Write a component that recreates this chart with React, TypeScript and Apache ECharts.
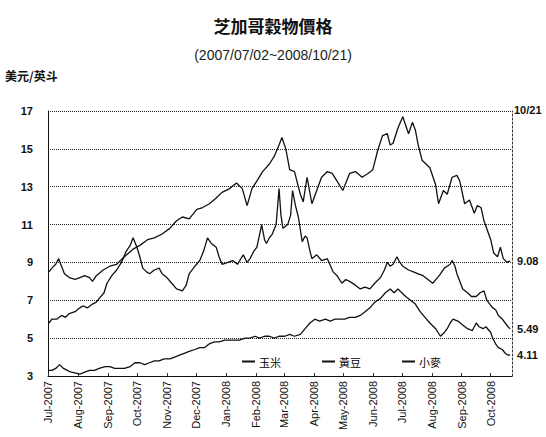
import React, { useEffect, useRef } from 'react';
import * as echarts from 'echarts';

const seriesNames = ['玉米', '黃豆', '小麥'];
const endLabels = ['4.11', '9.08', '5.49'];
const monthNames = ['Jan', 'Feb', 'Mar', 'Apr', 'May', 'Jun', 'Jul', 'Aug', 'Sep', 'Oct', 'Nov', 'Dec'];
const firstDay = '2007-07-01';
const lastDay = '2008-10-23';
const yMin = 3;
const yMax = 17;
const yStep = 2;

const corn: [string, number][] = [
  ['2007-07-02', 3.3], ['2007-07-05', 3.3], ['2007-07-09', 3.4], ['2007-07-13', 3.6], ['2007-07-17', 3.4],
  ['2007-07-21', 3.3], ['2007-07-25', 3.2], ['2007-07-30', 3.15], ['2007-08-03', 3.1], ['2007-08-08', 3.2],
  ['2007-08-13', 3.3], ['2007-08-18', 3.3], ['2007-08-23', 3.4], ['2007-08-29', 3.5], ['2007-09-03', 3.5],
  ['2007-09-08', 3.4], ['2007-09-13', 3.4], ['2007-09-18', 3.4], ['2007-09-24', 3.5], ['2007-09-29', 3.7],
  ['2007-10-04', 3.7], ['2007-10-09', 3.6], ['2007-10-14', 3.7], ['2007-10-19', 3.8], ['2007-10-24', 3.8],
  ['2007-10-29', 3.9], ['2007-11-04', 3.9], ['2007-11-09', 4.0], ['2007-11-14', 4.1], ['2007-11-19', 4.2],
  ['2007-11-24', 4.3], ['2007-11-30', 4.4], ['2007-12-05', 4.5], ['2007-12-10', 4.5], ['2007-12-15', 4.7],
  ['2007-12-20', 4.8], ['2007-12-25', 4.8], ['2007-12-31', 4.9], ['2008-01-05', 4.9], ['2008-01-10', 4.9],
  ['2008-01-15', 4.9], ['2008-01-21', 5.0], ['2008-01-26', 5.0], ['2008-01-31', 5.1], ['2008-02-05', 5.0],
  ['2008-02-10', 5.1], ['2008-02-15', 5.1], ['2008-02-20', 5.0], ['2008-02-25', 5.1], ['2008-03-02', 5.1],
  ['2008-03-07', 5.2], ['2008-03-12', 5.1], ['2008-03-18', 5.2], ['2008-03-23', 5.5], ['2008-03-28', 5.8],
  ['2008-04-02', 6.0], ['2008-04-07', 5.9], ['2008-04-13', 6.0], ['2008-04-18', 5.9], ['2008-04-23', 6.0],
  ['2008-04-28', 6.0], ['2008-05-03', 6.0], ['2008-05-08', 6.1], ['2008-05-14', 6.1], ['2008-05-19', 6.2],
  ['2008-05-24', 6.4], ['2008-05-29', 6.6], ['2008-06-03', 6.9], ['2008-06-09', 7.1], ['2008-06-14', 7.4],
  ['2008-06-19', 7.6], ['2008-06-23', 7.4], ['2008-06-27', 7.6], ['2008-07-01', 7.4], ['2008-07-05', 7.2],
  ['2008-07-10', 7.0], ['2008-07-15', 6.8], ['2008-07-20', 6.4], ['2008-07-25', 6.1], ['2008-07-30', 5.8],
  ['2008-08-05', 5.5], ['2008-08-10', 5.1], ['2008-08-14', 5.3], ['2008-08-17', 5.5], ['2008-08-20', 5.8],
  ['2008-08-23', 6.0], ['2008-08-28', 5.9], ['2008-09-02', 5.7], ['2008-09-07', 5.5], ['2008-09-12', 5.4],
  ['2008-09-16', 5.8], ['2008-09-19', 5.6], ['2008-09-23', 5.5], ['2008-09-26', 5.6], ['2008-10-01', 5.3],
  ['2008-10-03', 5.0], ['2008-10-06', 4.7], ['2008-10-09', 4.5], ['2008-10-13', 4.4], ['2008-10-16', 4.2],
  ['2008-10-19', 4.1], ['2008-10-21', 4.11],
];

const soybean: [string, number][] = [
  ['2007-07-02', 8.5], ['2007-07-05', 8.7], ['2007-07-09', 8.9], ['2007-07-12', 9.2], ['2007-07-15', 8.8],
  ['2007-07-18', 8.4], ['2007-07-23', 8.2], ['2007-07-29', 8.1], ['2007-08-03', 8.2], ['2007-08-08', 8.3],
  ['2007-08-13', 8.2], ['2007-08-16', 8.0], ['2007-08-20', 8.3], ['2007-08-27', 8.6], ['2007-09-03', 8.8],
  ['2007-09-10', 8.9], ['2007-09-18', 9.3], ['2007-09-27', 9.7], ['2007-10-04', 9.9], ['2007-10-12', 10.2],
  ['2007-10-19', 10.3], ['2007-10-27', 10.5], ['2007-11-04', 10.8], ['2007-11-11', 11.2], ['2007-11-17', 11.4],
  ['2007-11-24', 11.3], ['2007-12-02', 11.8], ['2007-12-08', 11.9], ['2007-12-15', 12.1], ['2007-12-22', 12.4],
  ['2007-12-28', 12.7], ['2008-01-05', 12.9], ['2008-01-12', 13.2], ['2008-01-18', 12.9], ['2008-01-23', 12.0],
  ['2008-01-28', 12.9], ['2008-02-02', 13.3], ['2008-02-08', 13.8], ['2008-02-15', 14.2], ['2008-02-20', 14.6],
  ['2008-02-25', 15.2], ['2008-02-28', 15.6], ['2008-03-03', 15.0], ['2008-03-07', 13.9], ['2008-03-12', 13.8],
  ['2008-03-18', 12.6], ['2008-03-21', 12.2], ['2008-03-25', 13.5], ['2008-03-30', 12.1], ['2008-04-04', 12.8],
  ['2008-04-09', 13.5], ['2008-04-15', 13.8], ['2008-04-20', 13.7], ['2008-04-25', 13.3], ['2008-05-01', 12.8],
  ['2008-05-08', 13.7], ['2008-05-14', 13.8], ['2008-05-21', 13.5], ['2008-05-27', 13.7], ['2008-06-01', 13.9],
  ['2008-06-06', 14.9], ['2008-06-11', 15.7], ['2008-06-16', 15.8], ['2008-06-19', 15.2], ['2008-06-22', 15.3],
  ['2008-06-27', 16.1], ['2008-07-02', 16.7], ['2008-07-08', 15.8], ['2008-07-12', 16.4], ['2008-07-15', 16.0],
  ['2008-07-18', 15.2], ['2008-07-22', 14.4], ['2008-07-26', 14.2], ['2008-07-30', 14.0], ['2008-08-05', 13.1],
  ['2008-08-08', 12.1], ['2008-08-13', 12.8], ['2008-08-17', 12.6], ['2008-08-22', 13.5], ['2008-08-27', 13.6],
  ['2008-08-30', 13.3], ['2008-09-04', 12.1], ['2008-09-09', 12.3], ['2008-09-14', 11.6], ['2008-09-17', 12.0],
  ['2008-09-21', 11.9], ['2008-09-24', 11.2], ['2008-10-01', 10.2], ['2008-10-04', 9.5], ['2008-10-08', 9.3],
  ['2008-10-11', 9.8], ['2008-10-14', 9.2], ['2008-10-18', 9.0], ['2008-10-21', 9.08],
];

const wheat: [string, number][] = [
  ['2007-07-02', 5.8], ['2007-07-05', 6.0], ['2007-07-10', 6.0], ['2007-07-15', 6.2], ['2007-07-19', 6.1],
  ['2007-07-23', 6.3], ['2007-07-29', 6.4], ['2007-08-03', 6.6], ['2007-08-06', 6.7], ['2007-08-11', 6.6],
  ['2007-08-16', 6.8], ['2007-08-20', 6.9], ['2007-08-23', 7.1], ['2007-08-28', 7.4], ['2007-08-31', 7.9],
  ['2007-09-05', 8.3], ['2007-09-10', 8.6], ['2007-09-15', 9.0], ['2007-09-20', 9.6], ['2007-09-24', 9.9],
  ['2007-09-27', 10.3], ['2007-10-01', 9.8], ['2007-10-04', 9.3], ['2007-10-07', 8.7], ['2007-10-11', 8.5],
  ['2007-10-14', 8.4], ['2007-10-19', 8.6], ['2007-10-24', 8.7], ['2007-10-27', 8.4], ['2007-11-01', 8.2],
  ['2007-11-06', 7.9], ['2007-11-11', 7.6], ['2007-11-17', 7.5], ['2007-11-21', 7.8], ['2007-11-24', 8.4],
  ['2007-11-30', 8.8], ['2007-12-05', 9.1], ['2007-12-09', 9.6], ['2007-12-13', 10.3], ['2007-12-17', 10.0],
  ['2007-12-22', 9.8], ['2007-12-25', 9.3], ['2007-12-28', 8.9], ['2008-01-03', 9.0], ['2008-01-08', 9.1],
  ['2008-01-13', 8.9], ['2008-01-19', 9.4], ['2008-01-23', 9.0], ['2008-01-26', 9.2], ['2008-01-30', 9.6],
  ['2008-02-02', 9.8], ['2008-02-05', 10.5], ['2008-02-07', 11.0], ['2008-02-10', 10.2], ['2008-02-12', 10.0],
  ['2008-02-15', 10.3], ['2008-02-18', 10.5], ['2008-02-22', 11.0], ['2008-02-25', 12.9], ['2008-02-27', 11.5],
  ['2008-02-29', 10.8], ['2008-03-05', 11.0], ['2008-03-08', 11.5], ['2008-03-10', 12.8], ['2008-03-13', 12.0],
  ['2008-03-16', 11.4], ['2008-03-20', 10.1], ['2008-03-23', 10.4], ['2008-03-25', 10.3], ['2008-03-28', 9.6],
  ['2008-03-30', 9.2], ['2008-04-04', 9.4], ['2008-04-09', 9.1], ['2008-04-15', 9.2], ['2008-04-21', 8.5],
  ['2008-04-25', 8.3], ['2008-04-30', 7.9], ['2008-05-04', 8.1], ['2008-05-08', 8.0], ['2008-05-14', 7.8],
  ['2008-05-19', 7.6], ['2008-05-24', 7.7], ['2008-05-29', 7.6], ['2008-06-03', 7.9], ['2008-06-09', 8.2],
  ['2008-06-13', 8.6], ['2008-06-16', 9.0], ['2008-06-19', 8.8], ['2008-06-22', 8.9], ['2008-06-26', 9.3],
  ['2008-06-29', 9.0], ['2008-07-02', 8.8], ['2008-07-08', 8.6], ['2008-07-13', 8.5], ['2008-07-18', 8.4],
  ['2008-07-23', 8.3], ['2008-07-28', 8.1], ['2008-08-02', 7.9], ['2008-08-07', 8.2], ['2008-08-10', 8.4],
  ['2008-08-14', 8.7], ['2008-08-17', 8.8], ['2008-08-20', 8.9], ['2008-08-22', 9.1], ['2008-08-25', 8.8],
  ['2008-08-27', 8.4], ['2008-08-30', 8.0], ['2008-09-02', 7.6], ['2008-09-07', 7.4], ['2008-09-11', 7.2],
  ['2008-09-16', 7.2], ['2008-09-20', 7.4], ['2008-09-24', 7.5], ['2008-09-27', 7.0], ['2008-10-03', 6.6],
  ['2008-10-06', 6.5], ['2008-10-09', 6.2], ['2008-10-13', 6.0], ['2008-10-16', 5.8], ['2008-10-19', 5.6],
  ['2008-10-21', 5.49],
];

function buildDays(from: string, to: string): string[] {
  const out: string[] = [];
  const d = new Date(from + 'T00:00:00Z');
  const end = new Date(to + 'T00:00:00Z');
  while (d.getTime() <= end.getTime()) {
    out.push(d.toISOString().slice(0, 10));
    d.setUTCDate(d.getUTCDate() + 1);
  }
  return out;
}

const days = buildDays(firstDay, lastDay);
const isMonthStart = (_i: number, v: string) => v.slice(8, 10) === '01';
const monthLabel = (v: string) => monthNames[parseInt(v.slice(5, 7), 10) - 1] + '-' + v.slice(0, 4);

export default function App() {
  const ref = useRef<HTMLDivElement>(null);
  useEffect(() => {
    document.body.style.margin = '0';
    if (!ref.current) return;
    const chart = echarts.init(ref.current, undefined, { renderer: 'svg' });
    const lineColor = '#111';
    const cjk = '"Noto Sans CJK TC", "Noto Sans CJK SC", sans-serif';
    const latin = '"Liberation Sans", Arial, sans-serif';
    const seriesData = [corn, soybean, wheat];
    chart.setOption({
      animation: false,
      backgroundColor: '#ffffff',
      title: [
        {
          text: '芝加哥穀物價格',
          left: 'center',
          top: 12,
          textStyle: { fontFamily: cjk, fontSize: 17, fontWeight: 'bold', color: '#111' },
        },
        {
          text: '(2007/07/02~2008/10/21)',
          left: 'center',
          top: 43,
          textStyle: { fontFamily: latin, fontSize: 14, fontWeight: 'normal', color: '#222' },
        },
      ],
      legend: seriesNames.map((n, i) => ({
        data: [n],
        left: 237 + i * 80,
        top: 351,
        icon: 'rect',
        itemWidth: 13,
        itemHeight: 2,
        itemGap: 4,
        textStyle: { fontFamily: cjk, fontSize: 11, color: '#000', padding: [0, 0, 0, -1] },
      })),
      grid: { left: 48, right: 34, top: 111, bottom: 61, containLabel: false },
      xAxis: {
        type: 'category',
        data: days,
        boundaryGap: false,
        axisLine: { show: true, lineStyle: { color: '#111', width: 1 } },
        axisTick: { show: true, inside: true, length: 3, interval: isMonthStart, lineStyle: { color: '#333' } },
        axisLabel: {
          interval: isMonthStart,
          rotate: 90,
          margin: 5,
          formatter: monthLabel,
          fontFamily: latin,
          fontSize: 11,
          color: '#111',
        },
        splitLine: { show: false },
      },
      yAxis: [
        {
          type: 'value',
          min: yMin,
          max: yMax,
          interval: yStep,
          axisLine: { show: true, lineStyle: { color: '#111', width: 1 } },
          axisTick: { show: false },
          axisLabel: { margin: 15, fontFamily: latin, fontSize: 11, fontWeight: 'bold', color: '#111' },
          splitLine: { show: true, lineStyle: { color: '#222', width: 1, type: [1, 1] } },
        },
        {
          type: 'value',
          min: yMin,
          max: yMax,
          interval: yStep,
          position: 'right',
          axisLine: { show: true, lineStyle: { color: '#333', width: 1, type: [2, 2] } },
          axisTick: { show: false },
          axisLabel: { show: false },
          splitLine: { show: false },
        },
      ],
      graphic: [
        {
          type: 'text',
          left: 5,
          top: 69,
          style: { text: '美元/英斗', fontFamily: cjk, fontSize: 12, fontWeight: 'bold', fill: '#111' },
        },
        {
          type: 'text',
          left: 514,
          top: 104,
          style: { text: '10/21', fontFamily: latin, fontSize: 11, fontWeight: 'bold', fill: '#111' },
        },
      ],
      series: seriesNames.map((n, i) => ({
        name: n,
        type: 'line',
        data: seriesData[i],
        showSymbol: false,
        symbol: 'none',
        lineStyle: { color: lineColor, width: 1.3 },
        itemStyle: { color: lineColor },
        endLabel: {
          show: true,
          formatter: endLabels[i],
          distance: 7,
          fontFamily: latin,
          fontSize: 11,
          fontWeight: 'bold',
          color: '#111',
        },
      })),
    });
    return () => chart.dispose();
  }, []);
  return <div ref={ref} style={{ width: 546, height: 437 }} />;
}
